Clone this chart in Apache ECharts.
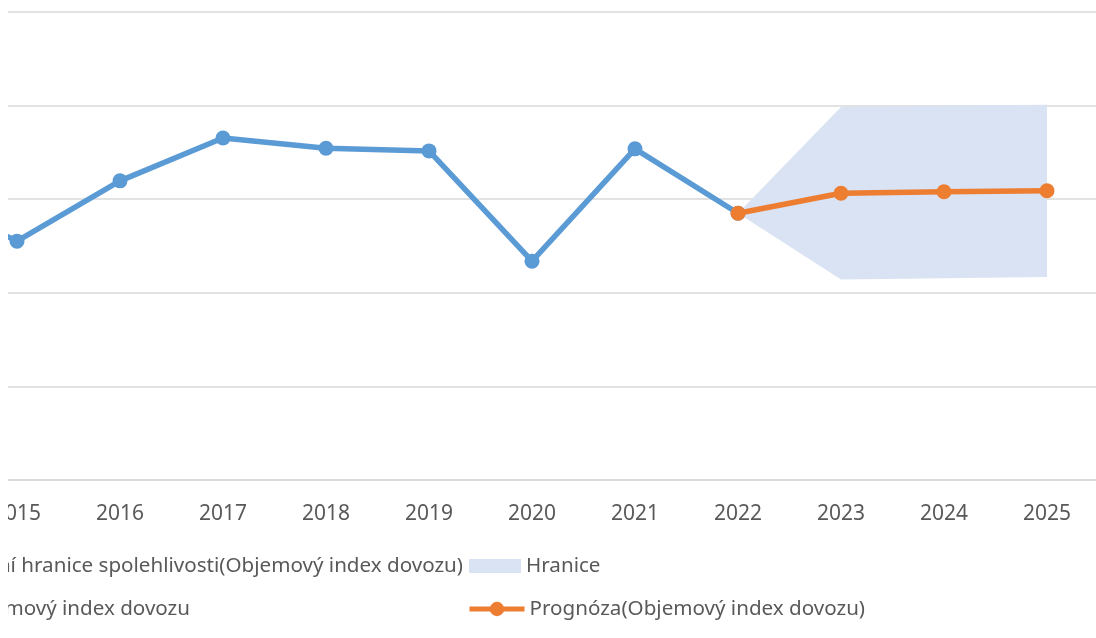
<!DOCTYPE html>
<html>
<head>
<meta charset="utf-8">
<script src="https://cdn.jsdelivr.net/npm/echarts@6/dist/echarts.min.js"></script>
<style>
html,body{margin:0;padding:0;background:#fff;overflow:hidden;width:1096px;height:638px;position:relative;}
#c{position:absolute;left:-138px;top:0;width:1237px;height:638px;}
#mask{position:absolute;left:0;top:0;width:8px;height:638px;background:#fff;}
</style>
</head>
<body>
<div id="c"></div>
<div id="mask"></div>
<script>
var years = ['2014','2015','2016','2017','2018','2019','2020','2021','2022','2023','2024','2025'];
var actual = [100.4, 97.76, 100.98, 103.27, 102.72, 102.58, 96.69, 102.69, 99.25, null, null, null];
var forecast = [null, null, null, null, null, null, null, null, 99.25, 100.32, 100.40, 100.45];
var lower = [null, null, null, null, null, null, null, null, 99.25, 95.71, 95.78, 95.85];
var upper = [null, null, null, null, null, null, null, null, 99.25, 104.93, 105.0, 105.05];
var yMin = 85, yMax = 110, yStep = 5;

var nameActual = 'Objemový index dovozu';
var nameForecast = 'Prognóza(Objemový index dovozu)';
var nameLower = 'Dolní hranice spolehlivosti(Objemový index dovozu)';
var nameBand = 'Hranice';

var band = upper.map(function(u, i){ return (u == null || lower[i] == null) ? null : +(u - lower[i]).toFixed(3); });

var font = 'Noto Sans';
var txt = {color:'#595959', fontSize:20.6, fontFamily:font, lineHeight:24};

var chart = echarts.init(document.getElementById('c'));
chart.setOption({
  animation:false,
  backgroundColor:'#fff',
  grid:{left:0.5, right:0.5, top:12, bottom:158, containLabel:false},
  xAxis:{
    type:'category', data:years, boundaryGap:true,
    axisLine:{lineStyle:{color:'#D9D9D9', width:1.5}},
    axisTick:{show:false},
    axisLabel:{color:'#595959', fontSize:21, fontFamily:font, margin:24}
  },
  yAxis:{
    type:'value', min:yMin, max:yMax, interval:yStep,
    axisLine:{show:false}, axisTick:{show:false}, axisLabel:{show:false},
    splitLine:{lineStyle:{color:'#D9D9D9', width:1.5}}
  },
  legend:[
    {data:[{name:nameLower, icon:'rect'}], right:636, top:554, padding:0, itemWidth:52, itemHeight:14, textStyle:txt, selectedMode:false},
    {data:[{name:nameBand, icon:'rect'}], left:607, top:554, padding:0, itemWidth:52, itemHeight:14, textStyle:txt, selectedMode:false},
    {data:[nameActual], right:909, top:597, padding:0, itemWidth:55, itemHeight:18, textStyle:txt, selectedMode:false, lineStyle:{width:5}},
    {data:[nameForecast], left:605, top:597, padding:0, itemWidth:55, itemHeight:18, textStyle:txt, selectedMode:false, lineStyle:{width:5}}
  ],
  series:[
    {name:nameLower, type:'line', data:lower, stack:'band', symbol:'none',
     lineStyle:{opacity:0}, itemStyle:{color:'#ffffff'}, silent:true, z:1},
    {name:nameBand, type:'line', data:band, stack:'band', symbol:'none',
     lineStyle:{opacity:0}, itemStyle:{color:'#DAE3F3'}, areaStyle:{color:'#DAE3F3', opacity:1}, silent:true, z:1},
    {name:nameActual, type:'line', data:actual, symbol:'circle', symbolSize:15,
     lineStyle:{color:'#5B9BD5', width:5.5}, itemStyle:{color:'#5B9BD5'}, z:3},
    {name:nameForecast, type:'line', data:forecast, symbol:'circle', symbolSize:15,
     lineStyle:{color:'#ED7D31', width:5.5}, itemStyle:{color:'#ED7D31'}, z:4}
  ]
});
</script>
</body>
</html>
